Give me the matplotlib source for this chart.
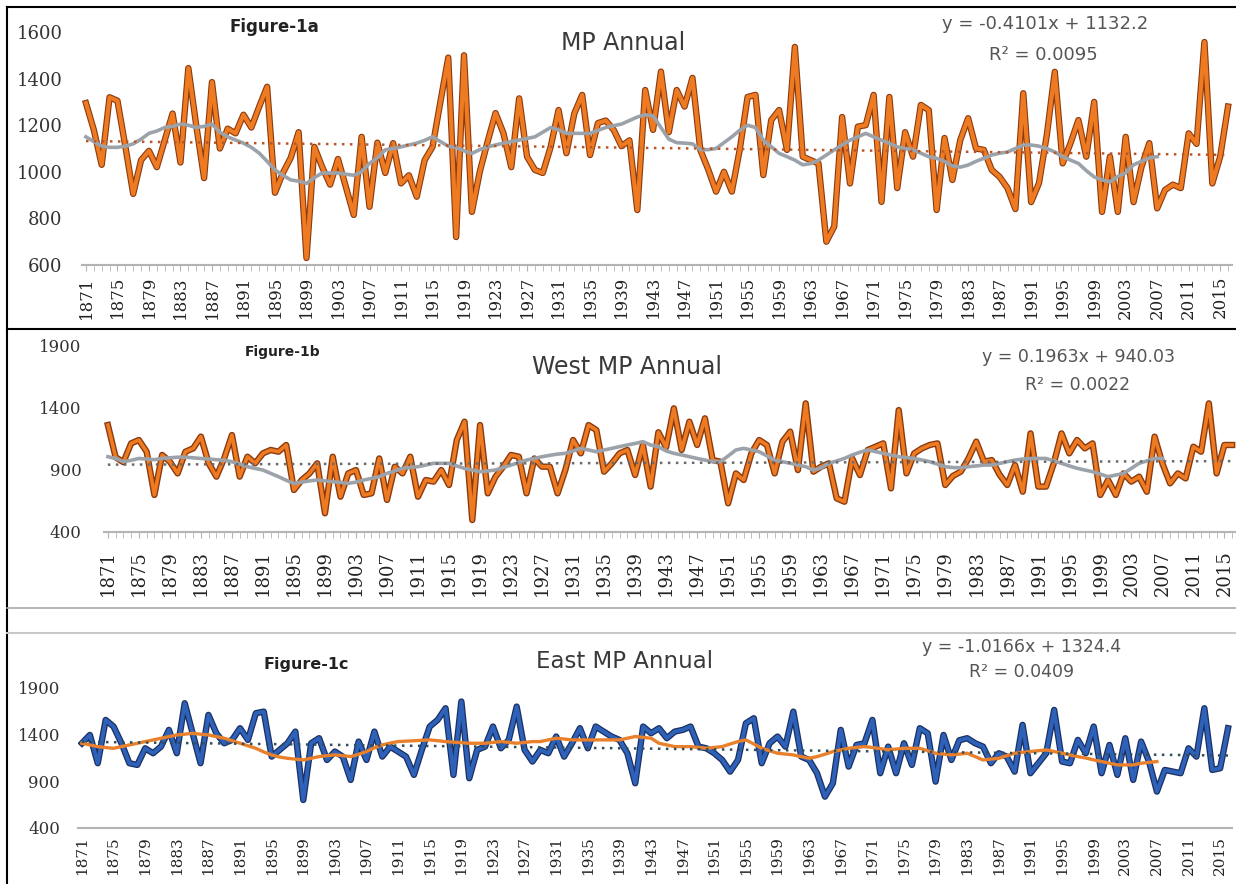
import numpy as np
import matplotlib.pyplot as plt
from matplotlib import patheffects as pe
from matplotlib.lines import Line2D

W, H = 1236, 884

years = np.arange(1871, 2017)
ma_years = np.arange(1871, 2008)

# MP annual rainfall (mm), 1871-2016
mp = [1295, 1180, 1030, 1320, 1305, 1110, 905, 1050, 1090, 1020,
      1135, 1250, 1040, 1445, 1200, 973, 1385, 1100, 1185, 1165,
      1245, 1190, 1280, 1365, 910, 995, 1060, 1170, 630, 1107,
      1020, 945, 1055, 935, 815, 1150, 850, 1125, 995, 1123,
      950, 985, 893, 1050, 1107, 1300, 1490, 720, 1500, 828,
      1000, 1130, 1252, 1166, 1020, 1315, 1065, 1008, 995, 1107,
      1265, 1080, 1250, 1330, 1072, 1209, 1220, 1180, 1110, 1135,
      836, 1351, 1180, 1430, 1170, 1351, 1280, 1403, 1094, 1010,
      915, 1000, 915, 1094, 1321, 1330, 986, 1222, 1265, 1094,
      1536, 1065, 1050, 1036, 700, 765, 1235, 950, 1194, 1200,
      1330, 871, 1321, 930, 1170, 1065, 1287, 1265, 836, 1145,
      965, 1136, 1230, 1100, 1094, 1008, 978, 930, 840, 1337,
      870, 952, 1160, 1429, 1036, 1123, 1222, 1065, 1300, 828,
      1065, 828, 1150, 870, 1020, 1123, 843, 922, 945, 930,
      1165, 1120, 1557, 950, 1065, 1280]
# 10-year moving average as drawn (1871-2007)
mp_ma = [1150, 1130, 1110, 1105, 1105, 1110, 1120, 1140, 1165, 1175,
         1190, 1195, 1205, 1200, 1190, 1195, 1205, 1170, 1150, 1136,
         1123, 1105, 1080, 1045, 1008, 985, 965, 960, 950, 975,
         995, 995, 995, 990, 985, 1000, 1036, 1060, 1094, 1100,
         1107, 1115, 1123, 1135, 1150, 1130, 1110, 1105, 1090, 1079,
         1095, 1107, 1115, 1123, 1130, 1136, 1143, 1150, 1170, 1190,
         1180, 1165, 1165, 1165, 1165, 1178, 1190, 1198, 1205, 1220,
         1235, 1245, 1240, 1190, 1140, 1125, 1123, 1120, 1095, 1095,
         1100, 1125, 1150, 1178, 1200, 1190, 1136, 1108, 1079, 1065,
         1050, 1030, 1035, 1050, 1072, 1094, 1115, 1136, 1150, 1165,
         1150, 1136, 1122, 1107, 1100, 1094, 1080, 1065, 1058, 1045,
         1025, 1020, 1029, 1045, 1058, 1072, 1080, 1085, 1100, 1115,
         1115, 1110, 1100, 1085, 1065, 1050, 1036, 1005, 978, 965,
         957, 980, 995, 1030, 1045, 1060, 1065]

# West MP annual rainfall (mm)
west = [1258, 1000, 960, 1111, 1138, 1044, 697, 1018, 964, 870,
        1044, 1071, 1165, 951, 844, 990, 1178, 844, 1004, 951,
        1031, 1058, 1044, 1098, 737, 817, 870, 951, 550, 1004,
        683, 870, 897, 697, 710, 990, 657, 924, 870, 1004,
        683, 817, 804, 897, 777, 1138, 1285, 496, 1258, 710,
        844, 924, 1018, 1004, 710, 990, 924, 924, 710, 897,
        1138, 1031, 1258, 1218, 884, 951, 1031, 1058, 857, 1098,
        764, 1200, 1080, 1392, 1058, 1285, 1098, 1312, 977, 964,
        630, 870, 817, 1031, 1138, 1098, 870, 1125, 1205, 897,
        1432, 884, 924, 951, 670, 643, 990, 857, 1058, 1084,
        1111, 750, 1378, 870, 1031, 1071, 1098, 1111, 777, 850,
        884, 990, 1125, 964, 977, 860, 777, 937, 723, 1191,
        764, 764, 951, 1191, 1031, 1138, 1071, 1111, 697, 817,
        697, 870, 804, 844, 723, 1165, 951, 790, 870, 830,
        1084, 1044, 1432, 870, 1098, 1098]
west_ma = [1004, 990, 964, 975, 990, 985, 980, 990, 995, 1000,
           1000, 995, 990, 985, 980, 975, 964, 945, 924, 910,
           897, 870, 844, 815, 790, 800, 810, 817, 810, 804,
           797, 790, 800, 817, 830, 844, 870, 890, 911, 918,
           924, 937, 951, 951, 951, 930, 910, 897, 884, 890,
           897, 917, 937, 957, 977, 990, 1004, 1015, 1025, 1031,
           1050, 1071, 1058, 1044, 1058, 1071, 1085, 1098, 1110, 1125,
           1098, 1084, 1050, 1031, 1018, 1004, 990, 977, 964, 964,
           1010, 1058, 1071, 1058, 1044, 1010, 977, 964, 951, 937,
           924, 897, 915, 951, 970, 990, 1018, 1040, 1058, 1045,
           1031, 1018, 1004, 997, 990, 977, 964, 944, 924, 917,
           915, 924, 930, 937, 937, 950, 964, 977, 985, 990,
           990, 990, 970, 951, 930, 911, 897, 884, 864, 844,
           857, 870, 910, 951, 970, 990, 990]

# East MP annual rainfall (mm)
east = [1308, 1397, 1094, 1558, 1487, 1308, 1094, 1076, 1254, 1201,
        1272, 1451, 1201, 1737, 1415, 1094, 1612, 1415, 1308, 1344,
        1469, 1344, 1630, 1647, 1165, 1237, 1308, 1433, 700, 1308,
        1362, 1129, 1219, 1165, 915, 1326, 1129, 1433, 1165, 1272,
        1219, 1165, 969, 1237, 1487, 1558, 1683, 969, 1755, 933,
        1237, 1272, 1487, 1254, 1344, 1701, 1237, 1112, 1237, 1201,
        1380, 1165, 1308, 1469, 1254, 1487, 1433, 1380, 1344, 1201,
        879, 1487, 1415, 1469, 1362, 1433, 1451, 1487, 1272, 1254,
        1201, 1129, 1004, 1129, 1522, 1576, 1094, 1308, 1380, 1272,
        1647, 1165, 1129, 987, 736, 879, 1451, 1058, 1290, 1308,
        1558, 987, 1272, 987, 1308, 1076, 1469, 1415, 897, 1397,
        1129, 1340, 1362, 1308, 1272, 1094, 1201, 1165, 1004, 1505,
        987, 1094, 1201, 1665, 1112, 1094, 1344, 1201, 1487, 987,
        1290, 969, 1362, 915, 1326, 1112, 790, 1022, 1004, 987,
        1254, 1165, 1683, 1022, 1040, 1469]
east_ma = [1308, 1290, 1272, 1262, 1254, 1272, 1290, 1308, 1326, 1344,
           1362, 1380, 1397, 1405, 1415, 1405, 1397, 1380, 1362, 1335,
           1308, 1280, 1254, 1215, 1183, 1160, 1147, 1138, 1129, 1147,
           1165, 1175, 1183, 1175, 1165, 1190, 1219, 1260, 1290, 1310,
           1326, 1330, 1335, 1340, 1344, 1335, 1326, 1320, 1314, 1308,
           1308, 1308, 1317, 1326, 1317, 1308, 1317, 1326, 1326, 1344,
           1362, 1353, 1344, 1344, 1344, 1344, 1344, 1344, 1344, 1362,
           1380, 1371, 1362, 1308, 1290, 1272, 1272, 1272, 1263, 1254,
           1263, 1272, 1300, 1326, 1344, 1300, 1254, 1228, 1201, 1192,
           1183, 1165, 1147, 1165, 1190, 1219, 1237, 1254, 1263, 1272,
           1263, 1250, 1237, 1245, 1254, 1254, 1254, 1228, 1201, 1192,
           1183, 1192, 1201, 1165, 1129, 1138, 1147, 1175, 1201, 1210,
           1219, 1228, 1237, 1219, 1201, 1183, 1165, 1150, 1130, 1112,
           1094, 1076, 1076, 1076, 1094, 1103, 1112]

# linear trend equations shown on the chart (x = year index starting at 1)
trend_a = (-0.4101, 1132.2)
trend_b = (0.1963, 940.03)
trend_c = (-1.0166, 1324.4)

fig = plt.figure(figsize=(W / 100, H / 100), dpi=100)


def px_axes(left, top, right, bottom):
    return fig.add_axes([left / W, 1 - bottom / H, (right - left) / W, (bottom - top) / H])


def ftext(x, y, s, **kw):
    fig.text(x / W, 1 - y / H, s, ha='center', va='center', **kw)


def fline(x0, y0, x1, y1, **kw):
    fig.add_artist(Line2D([x0 / W, x1 / W], [1 - y0 / H, 1 - y1 / H],
                          transform=fig.transFigure, **kw))


def setup(ax, ylim, yticks, ypad, xpad, xsize, ysize, ticks=True):
    ax.set_xlim(1870.5, 2016.5)
    ax.set_ylim(*ylim)
    ax.set_yticks(yticks)
    ax.set_xticks(years[::4])
    ax.set_xticklabels([str(y) for y in years[::4]], rotation=90)
    for s in ['top', 'right', 'left']:
        ax.spines[s].set_visible(False)
    ax.spines['bottom'].set_color('#B4B4B4')
    ax.spines['bottom'].set_linewidth(1.5)
    ax.tick_params(axis='y', length=0, pad=ypad, labelsize=ysize, labelcolor='#333333')
    ax.tick_params(axis='x', pad=xpad, labelsize=xsize, labelcolor='#222222',
                   length=4 if ticks else 0, color='#B4B4B4')
    if ticks:
        ax.set_xticks(years, minor=True)
        ax.tick_params(axis='x', which='minor', length=4, color='#B4B4B4')
    for lab in ax.get_xticklabels() + ax.get_yticklabels():
        lab.set_family('DejaVu Serif')
    ax.patch.set_alpha(0)


def trend(ax, coef, color):
    idx = np.arange(1, len(years) + 1)
    ax.plot(years, coef[0] * idx + coef[1], color=color, lw=1.8,
            linestyle=(0, (1, 2.2)), zorder=5)


orange_fx = [pe.Stroke(linewidth=4.6, foreground='#8A3A10'), pe.Normal()]
blue_fx = [pe.Stroke(linewidth=4.6, foreground='#1B2F63'), pe.Normal()]

# ---- Figure-1a
ax1 = px_axes(82, 32, 1232, 265)
setup(ax1, (600, 1600), np.arange(600, 1601, 200), 14, 4, 12, 13)
ax1.plot(years, mp, color='#EE7B22', lw=3, solid_joinstyle='round', path_effects=orange_fx, zorder=3)
ax1.plot(ma_years, mp_ma, color='#9BA2AA', lw=2.6, zorder=4)
trend(ax1, trend_a, '#B8562A')

# ---- Figure-1b
ax2 = px_axes(104, 345, 1236, 532)
setup(ax2, (400, 1900), np.arange(400, 1901, 500), 16, 9, 13, 12)
ax2.plot(years, west, color='#EE7B22', lw=2.6, solid_joinstyle='round', path_effects=orange_fx, zorder=3)
ax2.plot(ma_years, west_ma, color='#9BA2AA', lw=2.6, zorder=4)
trend(ax2, trend_b, '#6A6A6A')

# ---- Figure-1c
ax3 = px_axes(78, 688, 1232, 828)
setup(ax3, (400, 1900), np.arange(400, 1901, 500), 13, 6, 11, 12, ticks=False)
ax3.plot(years, east, color='#2E62B8', lw=2.8, solid_joinstyle='round', path_effects=blue_fx, zorder=3)
ax3.plot(ma_years, east_ma, color='#E8802C', lw=2.4, zorder=4)
trend(ax3, trend_c, '#2F4F5F')

# ---- texts
tc = '#3A3A3A'
ec = '#555555'
ftext(274, 27, 'Figure-1a', fontsize=12, fontweight='bold', color='#222222')
ftext(623, 43, 'MP Annual', fontsize=17, color=tc)
ftext(1045, 24, 'y = -0.4101x + 1132.2', fontsize=13, color=ec)
ftext(1043, 55, 'R² = 0.0095', fontsize=13, color=ec)

ftext(283, 352, 'Figure-1b', fontsize=10, fontweight='bold', color='#222222')
ftext(627, 367, 'West MP Annual', fontsize=17, color=tc)
ftext(1078, 357, 'y = 0.1963x + 940.03', fontsize=12.5, color=ec)
ftext(1078, 385, 'R² = 0.0022', fontsize=12.5, color=ec)

ftext(306, 665, 'Figure-1c', fontsize=11.5, fontweight='bold', color='#222222')
ftext(625, 661, 'East MP Annual', fontsize=16.5, color=tc)
ftext(1022, 647, 'y = -1.0166x + 1324.4', fontsize=12.5, color=ec)
ftext(1022, 672, 'R² = 0.0409', fontsize=12.5, color=ec)

# ---- panel frames
fline(7, 7, 1236, 7, color='black', lw=1.5)
fline(7, 7, 7, 884, color='black', lw=1.5)
fline(7, 329, 1236, 329, color='black', lw=1.5)
fline(7, 608, 1236, 608, color='#A8A8A8', lw=1.2)
fline(7, 633, 1236, 633, color='#C8C8C8', lw=1.5)

fig.savefig('out.png', dpi=100)
